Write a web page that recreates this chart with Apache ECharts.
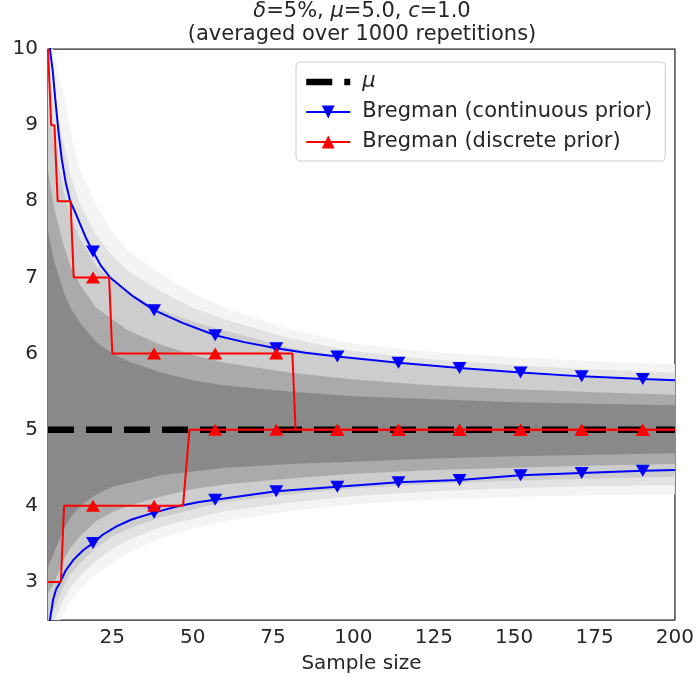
<!DOCTYPE html>
<html>
<head>
<meta charset="utf-8">
<script src="https://cdn.jsdelivr.net/npm/echarts@6/dist/echarts.min.js"></script>
<style>html,body{margin:0;padding:0;background:#fff}#c{width:697px;height:684px}</style>
</head>
<body>
<div id="c"></div>
<script>
// ---- data ----
const xTicks = [25, 50, 75, 100, 125, 150, 175, 200];
const yTicks = [3, 4, 5, 6, 7, 8, 9, 10];
const muValue = 5.0;
const muN = [5, 200];
const markerN = [19, 38, 57, 76, 95, 114, 133, 152, 171, 190];

// Bregman (continuous prior) upper / lower
const contUpperN = [5, 5.6, 6.5, 7.2, 8.3, 9.3, 10.5, 11.9, 13.5, 15, 17, 19, 21.5, 24.3, 28, 31.5, 38, 47, 57, 66, 76, 85, 95, 114, 133, 152, 171, 190, 200];
const contUpperV = [10.3, 10.0, 9.7, 9.37, 8.9, 8.55, 8.25, 8.0, 7.85, 7.7, 7.5, 7.34, 7.15, 7.0, 6.87, 6.75, 6.57, 6.40, 6.24, 6.15, 6.07, 6.01, 5.96, 5.88, 5.81, 5.75, 5.70, 5.665, 5.65];
const contLowerN = [5.3, 5.6, 6.6, 7.5, 8.7, 10.5, 12.9, 16, 19, 22, 26.3, 31, 38, 45, 52, 57, 76, 95, 114, 133, 152, 171, 190, 200];
const contLowerV = [2.3, 2.5, 2.77, 2.9, 2.99, 3.15, 3.29, 3.42, 3.51, 3.62, 3.73, 3.82, 3.91, 3.99, 4.05, 4.08, 4.19, 4.25, 4.31, 4.34, 4.40, 4.43, 4.46, 4.47];

// Bregman (discrete prior) upper / lower
const discUpperN = [5, 6, 7, 8, 12, 13, 19, 24, 25, 38, 57, 76, 81, 82, 95, 114, 133, 152, 171, 190, 200];
const discUpperV = [10, 9, 9, 8, 8, 7, 7, 7, 6, 6, 6, 6, 6, 5, 5, 5, 5, 5, 5, 5, 5];
const discLowerN = [5, 9, 10, 19, 38, 47, 49, 57, 76, 95, 114, 133, 152, 171, 190, 200];
const discLowerV = [3, 3, 4, 4, 4, 4, 5, 5, 5, 5, 5, 5, 5, 5, 5, 5];

// envelope of the 1000 repetition traces (outer faint -> dense core)
const bandN = [5, 7, 10, 12, 15, 20, 25, 30, 40, 50, 60, 80, 100, 125, 150, 175, 200];
const bandALo = [2.2, 2.35, 2.6, 2.75, 2.9, 3.1, 3.25, 3.38, 3.57, 3.7, 3.8, 3.93, 4.02, 4.08, 4.12, 4.14, 4.15];
const bandAHi = [10.4, 9.9, 9.4, 8.9, 8.4, 7.95, 7.6, 7.35, 7.05, 6.8, 6.6, 6.32, 6.13, 6.02, 5.95, 5.9, 5.86];
const bandA2Lo = [2.35, 2.5, 2.78, 2.93, 3.08, 3.28, 3.43, 3.55, 3.72, 3.83, 3.93, 4.04, 4.13, 4.19, 4.23, 4.26, 4.27];
const bandA2Hi = [9.8, 9.3, 8.75, 8.35, 7.95, 7.55, 7.28, 7.08, 6.82, 6.6, 6.45, 6.2, 6.03, 5.92, 5.85, 5.79, 5.75];
const bandBLo = [2.5, 2.65, 2.95, 3.1, 3.25, 3.45, 3.6, 3.7, 3.85, 3.95, 4.05, 4.15, 4.23, 4.29, 4.33, 4.36, 4.38];
const bandBHi = [9.3, 8.7, 8.1, 7.8, 7.5, 7.15, 6.95, 6.8, 6.58, 6.42, 6.3, 6.08, 5.93, 5.82, 5.74, 5.68, 5.64];
const bandCLo = [2.85, 3.0, 3.3, 3.45, 3.6, 3.8, 3.92, 4.0, 4.12, 4.22, 4.28, 4.36, 4.42, 4.47, 4.5, 4.53, 4.55];
const bandCHi = [8.4, 7.9, 7.4, 7.15, 6.9, 6.6, 6.45, 6.3, 6.12, 5.98, 5.88, 5.75, 5.66, 5.58, 5.53, 5.49, 5.46];
const bandDLo = [3.2, 3.4, 3.7, 3.85, 4.0, 4.15, 4.25, 4.3, 4.4, 4.45, 4.5, 4.55, 4.58, 4.62, 4.65, 4.67, 4.69];
const bandDHi = [7.6, 7.2, 6.8, 6.6, 6.4, 6.15, 6.0, 5.9, 5.75, 5.65, 5.58, 5.5, 5.44, 5.4, 5.36, 5.34, 5.32];

// ---- build ----
const FONT = 'DejaVu Sans';
const TXT = '#262626';
const bands = [
  {lo: bandALo, hi: bandAHi, color: '#f4f4f4'},
  {lo: bandA2Lo, hi: bandA2Hi, color: '#e2e2e2'},
  {lo: bandBLo, hi: bandBHi, color: '#cdcdcd'},
  {lo: bandCLo, hi: bandCHi, color: '#aaaaaa'},
  {lo: bandDLo, hi: bandDHi, color: '#898989'}
];
function withMarkers(ns, vs) {
  return ns.map((n, i) => markerN.includes(n) ? {value: [n, vs[i]]} : {value: [n, vs[i]], symbol: 'none'});
}
const CONT = 'Bregman (continuous prior)';
const DISC = 'Bregman (discrete prior)';
function lineSeries(name, ns, vs, color, rot, z) {
  return {
    name: name, type: 'line', data: withMarkers(ns, vs),
    symbol: 'triangle', symbolRotate: rot, symbolSize: [14, 12], showSymbol: true, showAllSymbol: true,
    itemStyle: {color: color}, lineStyle: {color: color, width: 2}, z: z, clip: true,
    animation: false
  };
}

const chart = echarts.init(document.getElementById('c'), null, {renderer: 'canvas'});
chart.setOption({
  animation: false,
  textStyle: {fontFamily: FONT},
  title: {
    text: '{i|δ}=5%, {i|μ}=5.0, {i|c}=1.0\n(averaged over 1000 repetitions)',
    left: 362, top: 0, textAlign: 'center', padding: 0,
    textStyle: {
      fontFamily: FONT, fontSize: 21, fontWeight: 'normal', color: TXT, lineHeight: 23,
      rich: {i: {fontStyle: 'italic', fontFamily: FONT, fontSize: 21, color: TXT, lineHeight: 23}}
    }
  },
  grid: {left: 48, right: 21, top: 49, bottom: 64, show: true, borderColor: '#262626', borderWidth: 1.25, backgroundColor: 'transparent'},
  legend: {
    data: [
      {name: 'μ', itemStyle: {opacity: 0}, lineStyle: {width: 6.5, type: [26, 12], color: '#000000'}},
      {name: CONT}, {name: DISC}
    ],
    orient: 'vertical', left: 296, top: 62,
    itemWidth: 44, itemHeight: 16, itemGap: 8,
    padding: [9, 13, 8, 7],
    backgroundColor: 'rgba(255,255,255,0.85)', borderColor: '#cccccc', borderWidth: 1, borderRadius: 4,
    formatter: n => n === 'μ' ? '{it|μ}' : n,
    textStyle: {fontFamily: FONT, fontSize: 21, color: TXT, lineHeight: 22, padding: [0, 0, 0, 7],
      rich: {it: {fontStyle: 'italic', fontFamily: FONT, fontSize: 21, color: TXT, lineHeight: 22}}}
  },
  xAxis: {
    type: 'value', min: 5, max: 200,
    name: 'Sample size', nameLocation: 'middle', nameGap: 34,
    nameTextStyle: {fontFamily: FONT, fontSize: 20, color: TXT},
    axisLine: {show: false}, axisTick: {show: false, customValues: xTicks}, splitLine: {show: false},
    axisLabel: {customValues: xTicks, fontFamily: FONT, fontSize: 20, color: TXT, margin: 8}
  },
  yAxis: {
    type: 'value', min: 2.5, max: 10,
    axisLine: {show: false}, axisTick: {show: false, customValues: yTicks}, splitLine: {show: false},
    axisLabel: {customValues: yTicks, fontFamily: FONT, fontSize: 20, color: TXT, margin: 10}
  },
  series: [
    {
      type: 'custom', silent: true, clip: true, z: 1,
      data: bands.map((b, i) => [5, 5, i]),
      renderItem: function (params, api) {
        const b = bands[params.dataIndex];
        const pts = [];
        for (let k = 0; k < bandN.length; k++) pts.push(api.coord([bandN[k], b.lo[k]]));
        for (let k = bandN.length - 1; k >= 0; k--) pts.push(api.coord([bandN[k], b.hi[k]]));
        return {type: 'polygon', shape: {points: pts}, style: {fill: b.color}};
      }
    },
    {
      name: 'μ', type: 'line', data: muN.map(n => [n, muValue]), symbol: 'none',
      lineStyle: {color: '#000000', width: 6.5, type: [26, 12]}, itemStyle: {color: 'rgba(0,0,0,0)'}, z: 2
    },
    lineSeries(CONT, contUpperN, contUpperV, '#0000ff', 180, 3),
    lineSeries(CONT, contLowerN, contLowerV, '#0000ff', 180, 3),
    lineSeries(DISC, discUpperN, discUpperV, '#ff0000', 0, 4),
    lineSeries(DISC, discLowerN, discLowerV, '#ff0000', 0, 4)
  ]
});
</script>
</body>
</html>
